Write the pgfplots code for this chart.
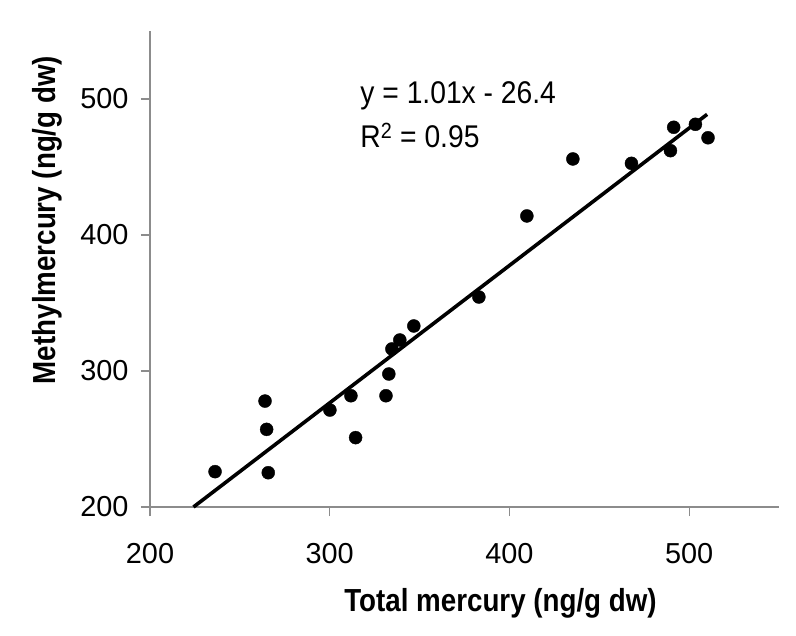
\documentclass[border=0pt]{standalone}
\usepackage{fontspec}
\setmainfont{Liberation Sans}
\newfontfamily\narrowfont[FakeStretch=0.87]{Liberation Sans}
\newfontfamily\eqfont[FakeStretch=0.9]{Liberation Sans}
\usepackage{pgfplots}
\pgfplotsset{compat=1.18}
\definecolor{axgray}{HTML}{8C8C8C}
\begin{document}
\begin{tikzpicture}
\useasboundingbox (-150bp,-129bp) rectangle (646bp,507bp);
\begin{axis}[
  at={(0,0)}, anchor=south west,
  scale only axis, width=629bp, height=476bp,
  xmin=200, xmax=550, ymin=200, ymax=550,
  xtick={200,300,400,500}, ytick={200,300,400,500},
  axis x line*=bottom, axis y line*=left,
  axis line style={axgray, line width=1.1pt, -},
  tick style={axgray, line width=1.1pt},
  tick align=outside, major tick length=9bp,
  x tick label style={font=\fontsize{29}{32}\selectfont, yshift=-24bp},
  y tick label style={font=\fontsize{29}{32}\selectfont, xshift=-9bp},
  /pgf/number format/assume math mode=true,
  xlabel={\narrowfont\bfseries Total mercury (ng/g dw)},
  ylabel={\narrowfont\bfseries Methylmercury (ng/g dw)},
  xlabel style={font=\fontsize{32}{34}\selectfont, yshift=-18bp, xshift=36bp},
  ylabel style={font=\fontsize{32}{34}\selectfont, yshift=11bp, xshift=49bp},
  clip=false,
]
\addplot[only marks, mark=*, mark size=6.5bp, black] coordinates {
(236.2,226.0) (264.0,277.9) (264.9,257.1) (265.8,225.2) (300.1,271.3)
(311.8,281.8) (314.4,251.0) (331.3,281.8) (332.9,297.8) (334.6,316.2)
(339.0,322.8) (346.8,333.1) (383.0,354.4) (409.7,414.0) (435.3,455.9)
(467.9,452.7) (489.6,462.0) (491.4,479.2) (503.5,481.4) (510.5,471.5)
};
\addplot[black, line width=3.6bp] coordinates {(224.2,200.0) (510.0,488.7)};
\node[anchor=base west, inner sep=0pt, font=\fontsize{31.5}{34}\selectfont] at (axis cs:317,497) {\eqfont y = 1.01x - 26.4};
\node[anchor=base west, inner sep=0pt, font=\fontsize{31.5}{34}\selectfont] at (axis cs:317,464) {\eqfont R\textsuperscript{2} = 0.95};
\end{axis}
\end{tikzpicture}
\end{document}
